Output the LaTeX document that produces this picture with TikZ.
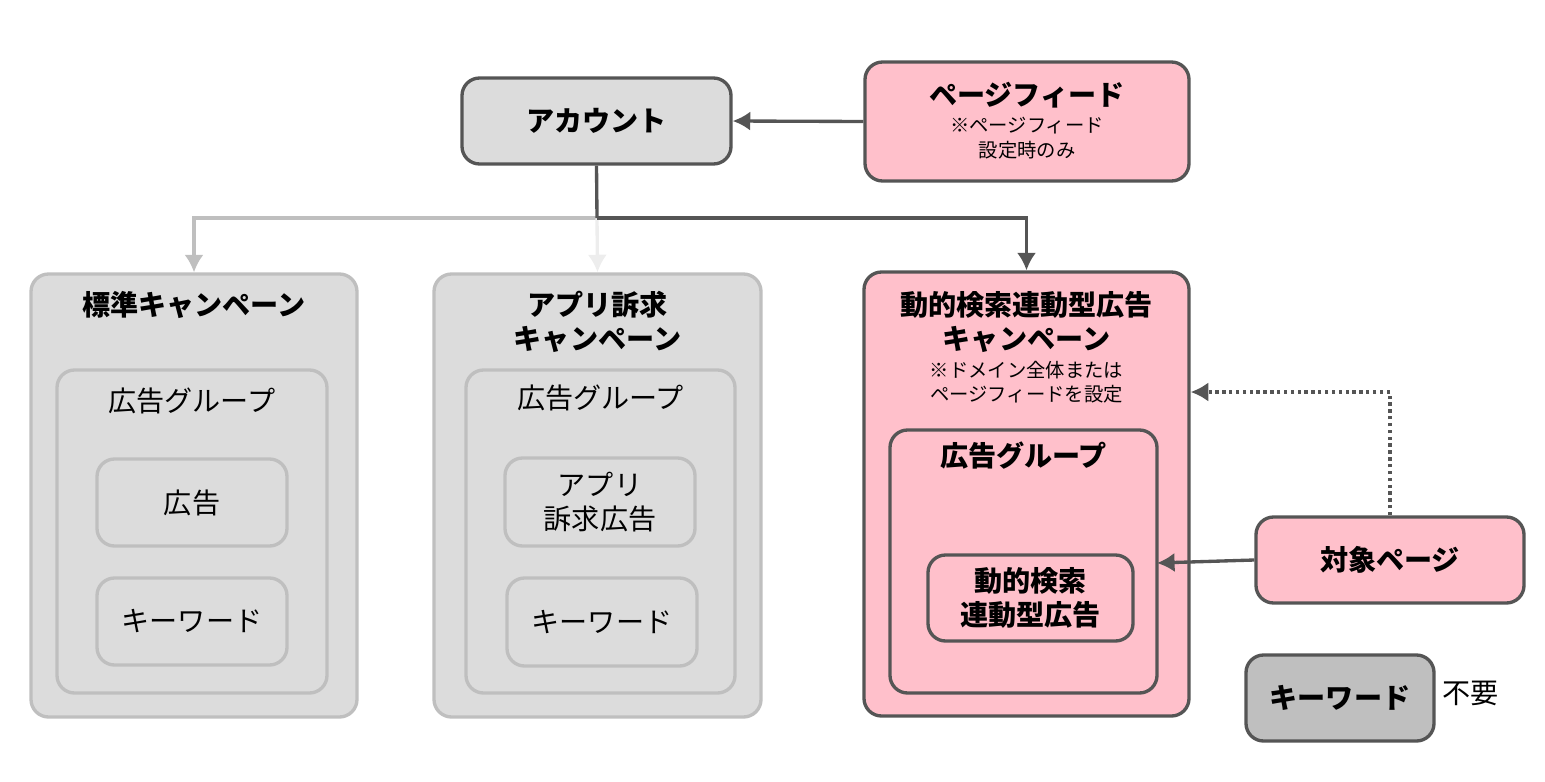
\documentclass[tikz,border=0pt]{standalone}
\usepackage{fontspec}
\setmainfont{Noto Sans CJK JP}
\usepackage{xcolor}
\definecolor{dark}{HTML}{555555}
\definecolor{light}{HTML}{BFBFBF}
\definecolor{grayfill}{HTML}{DCDCDC}
\definecolor{pinkfill}{HTML}{FFC0CB}
\usetikzlibrary{arrows.meta}
\tikzstyle{darkbox} = [rectangle, rounded corners=10pt, draw=dark, line width=1.9pt, align=center, font=\fontsize{16}{19}\selectfont\bfseries]
\tikzstyle{lightbox} = [rectangle, rounded corners=10pt, draw=light, line width=1.9pt, fill=grayfill, align=center, font=\fontsize{16}{19}\selectfont]
\tikzset{conn/.style={line width=1.9pt, -{Latex[length=10pt,width=11pt]}}}

\begin{document}
\begin{tikzpicture}[x=0.02cm, y=-0.02cm]
        \useasboundingbox (0,0) rectangle (1545,781);

        % top row
        \node[darkbox, fill=grayfill, minimum width=269*0.02cm, minimum height=86*0.02cm] at (596.5,121) (account) {アカウント};
        \node[darkbox, fill=pinkfill, minimum width=324*0.02cm, minimum height=119*0.02cm] at (1027,121.5) (feed) {};
        \node[font=\fontsize{16}{19}\selectfont\bfseries] at (1027,95) (feedtitle) {ページフィード};
        \node[font=\fontsize{11}{14}\selectfont, align=center] at (1027,138) (feednote) {※ページフィード\\設定時のみ};

        % standard campaign
        \node[lightbox, minimum width=326*0.02cm, minimum height=443*0.02cm] at (194,495.5) (std) {};
        \node[font=\fontsize{16}{19}\selectfont\bfseries] at (194,305) (stdtitle) {標準キャンペーン};
        \node[lightbox, minimum width=270*0.02cm, minimum height=323*0.02cm] at (192,531.5) (stdgroup) {};
        \node[font=\fontsize{16}{19}\selectfont] at (192,401) (stdgrouptitle) {広告グループ};
        \node[lightbox, minimum width=190*0.02cm, minimum height=87*0.02cm] at (192,502.5) (stdad) {広告};
        \node[lightbox, minimum width=190*0.02cm, minimum height=87*0.02cm] at (192,621.5) (stdkw) {キーワード};

        % app campaign
        \node[lightbox, minimum width=327*0.02cm, minimum height=443*0.02cm] at (597.5,495.5) (app) {};
        \node[font=\fontsize{16}{19}\selectfont\bfseries, align=center] at (597.5,322) (apptitle) {アプリ訴求\\キャンペーン};
        \node[lightbox, minimum width=269*0.02cm, minimum height=323*0.02cm] at (600.5,531.5) (appgroup) {};
        \node[font=\fontsize{16}{19}\selectfont] at (600.5,398) (appgrouptitle) {広告グループ};
        \node[lightbox, minimum width=190*0.02cm, minimum height=88*0.02cm] at (600,502) (appad) {アプリ\\訴求広告};
        \node[lightbox, minimum width=190*0.02cm, minimum height=88*0.02cm] at (602,622) (appkw) {キーワード};

        % dynamic search campaign
        \node[darkbox, fill=pinkfill, minimum width=325*0.02cm, minimum height=444*0.02cm] at (1026.5,494) (dsa) {};
        \node[font=\fontsize{16}{19}\selectfont\bfseries, align=center] at (1026.5,322) (dsatitle) {動的検索連動型広告\\キャンペーン};
        \node[font=\fontsize{11}{14}\selectfont, align=center] at (1026.5,382) (dsanote) {※ドメイン全体または\\ページフィードを設定};
        \node[darkbox, fill=pinkfill, minimum width=267*0.02cm, minimum height=263*0.02cm] at (1023.5,561.5) (dsagroup) {};
        \node[font=\fontsize{16}{19}\selectfont\bfseries] at (1023.5,456) (dsagrouptitle) {広告グループ};
        \node[darkbox, fill=pinkfill, minimum width=205*0.02cm, minimum height=86*0.02cm] at (1030.5,598) (dsaad) {動的検索\\連動型広告};

        % target page and legend
        \node[darkbox, fill=pinkfill, minimum width=268*0.02cm, minimum height=86*0.02cm] at (1390,560) (target) {対象ページ};
        \node[darkbox, fill=light, minimum width=188*0.02cm, minimum height=86*0.02cm] at (1340,698) (legend) {キーワード};
        \node[font=\fontsize{16}{19}\selectfont, right] at (1436,693) (legendnote) {不要};

        % connectors
        \coordinate (split) at (597,218);
        \coordinate (hub) at (1390,392);
        \coordinate (entry) at (1157,563);
        \draw[conn, dark] (feed.west) -- (account.east);
        \draw[conn, light] (split) -| (std.north);
        \draw[conn, black!7] (split) -- (app.north);
        \draw[line width=1.9pt, dark] (account.south) -- (split);
        \draw[conn, dark] (split) -| (dsa.north);
        \draw[conn, dark, dotted, line width=2.6pt] (target.north) -- (hub) -- (dsa.east |- hub);
        \draw[conn, dark] (target.west) -- (entry);
    \end{tikzpicture}
\end{document}
